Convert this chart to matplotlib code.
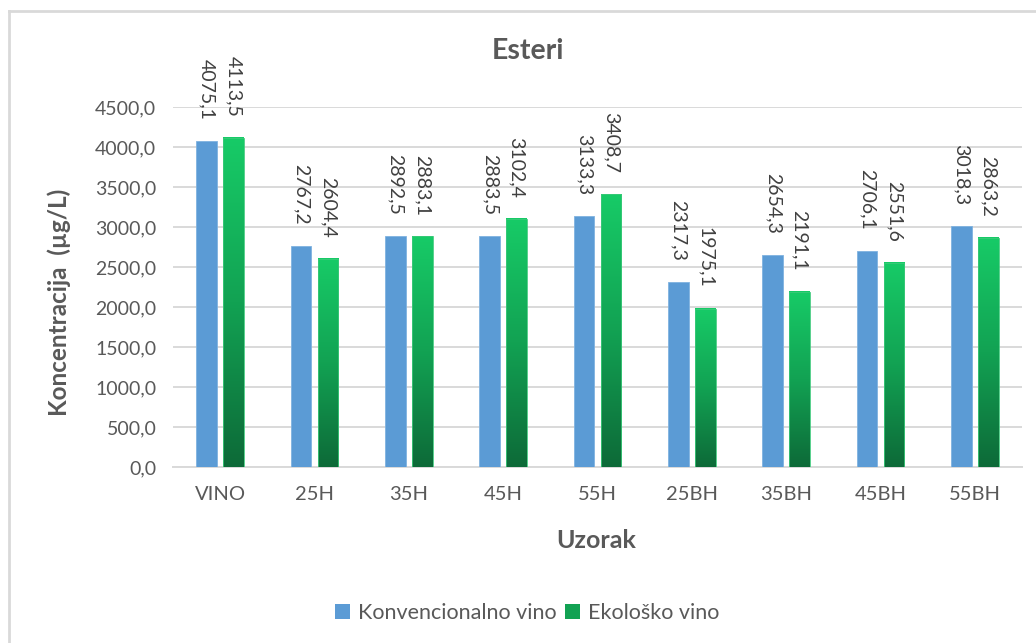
import matplotlib
matplotlib.use("Agg")
import matplotlib.pyplot as plt
import numpy as np
from matplotlib.colors import LinearSegmentedColormap
from matplotlib.patches import Patch
from matplotlib.lines import Line2D

categories = ["VINO", "25H", "35H", "45H", "55H", "25BH", "35BH", "45BH", "55BH"]
konvencionalno = [4075.1, 2767.2, 2892.5, 2883.5, 3133.3, 2317.3, 2654.3, 2706.1, 3018.3]
ekolosko = [4113.5, 2604.4, 2883.1, 3102.4, 3408.7, 1975.1, 2191.1, 2551.6, 2863.2]
series_names = ["Konvencionalno vino", "Ekološko vino"]
yticks = np.arange(0, 4501, 500)

plt.rcParams['font.family'] = ['Lato', 'DejaVu Sans']
TXT = "#595959"
GRID = "#D9D9D9"
BLUE = "#5B9BD5"

W, H = 1036, 643
fig = plt.figure(figsize=(W / 100, H / 100), dpi=100)
ax = fig.add_axes([173 / W, (H - 467) / H, (1022 - 173) / W, (467 - 107) / H])

x = np.arange(len(categories))
bw = 0.22
off = 0.142

ax.bar(x - off, konvencionalno, bw, color=BLUE, edgecolor="#7FB2E0", linewidth=0.6, zorder=3)
green_bars = ax.bar(x + off, ekolosko, bw, color="none", edgecolor="#3CC97A", linewidth=0.6, zorder=4)

cmap = LinearSegmentedColormap.from_list("g", ["#0D6A38", "#12A253", "#17CB67"])
grad = np.linspace(0, 1, 256).reshape(-1, 1)
for b in green_bars:
    x0 = b.get_x()
    h = b.get_height()
    ax.imshow(grad, cmap=cmap, origin="lower", aspect="auto",
              extent=(x0, x0 + b.get_width(), 0, h), zorder=3.5)

ax.set_xlim(-0.5, len(categories) - 0.5)
ax.set_ylim(0, 4500)
ax.set_yticks(yticks)
ax.set_yticklabels([f"{v:.1f}".replace(".", ",") for v in yticks], fontsize=14, color=TXT)
ax.set_xticks(x)
ax.set_xticklabels(categories, fontsize=14.5, color=TXT)
ax.tick_params(axis="y", length=0, pad=12)
ax.tick_params(axis="x", length=0, pad=14)
ax.grid(axis="y", color=GRID, linewidth=1.4, zorder=0)
ax.set_axisbelow(True)
for s in ["top", "right", "left"]:
    ax.spines[s].set_visible(False)
ax.spines["bottom"].set_color(GRID)
ax.spines["bottom"].set_linewidth(1.4)

for xi, v in zip(x - off, konvencionalno):
    ax.annotate(f"{v:.1f}".replace(".", ","), (xi, v), xytext=(0, 15), textcoords="offset points",
                rotation=270, ha="center", va="bottom", fontsize=14, color="#404040", zorder=6)
for xi, v in zip(x + off, ekolosko):
    ax.annotate(f"{v:.1f}".replace(".", ","), (xi, v), xytext=(0, 15), textcoords="offset points",
                rotation=270, ha="center", va="bottom", fontsize=14, color="#404040", zorder=6)

ax.set_xlim(-0.5, len(categories) - 0.5)
ax.set_ylim(0, 4500)

fig.text(528 / W, 1 - 51 / H, "Esteri", ha="center", va="center", fontsize=20.5,
         fontweight="bold", color=TXT)
fig.text(59 / W, 1 - 302 / H, "Koncentracija  (µg/L)", ha="center", va="center", rotation=90,
         fontsize=17.5, fontweight="bold", color=TXT)
fig.text(596 / W, 1 - 540 / H, "Uzorak", ha="center", va="center", fontsize=18,
         fontweight="bold", color=TXT)

handles = [Patch(facecolor=BLUE, edgecolor="none"), Patch(facecolor="#12A253", edgecolor="none")]
fig.legend(handles, series_names, loc="center", bbox_to_anchor=(527 / W, 1 - 613 / H),
           ncol=2, frameon=False, fontsize=15.5, labelcolor=TXT, handlelength=0.7,
           handleheight=0.7, handletextpad=0.35, columnspacing=0.4)

# chart-area border (left and top visible)
fig.add_artist(Line2D([9 / W, 9 / W], [0, 1 - 11 / H], transform=fig.transFigure,
                      color=GRID, linewidth=2))
fig.add_artist(Line2D([9 / W, 1], [1 - 11 / H, 1 - 11 / H], transform=fig.transFigure,
                      color=GRID, linewidth=2))

fig.savefig("out.png", dpi=100)
